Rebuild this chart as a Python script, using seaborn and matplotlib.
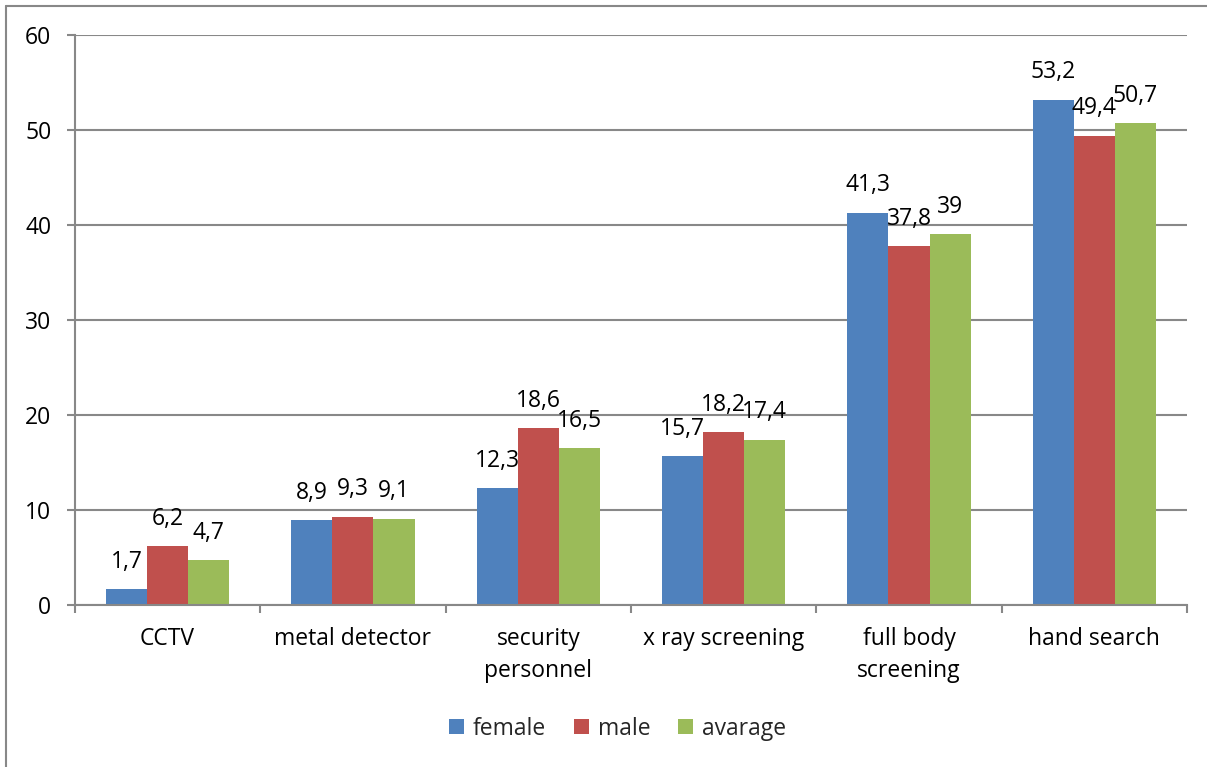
import matplotlib
matplotlib.use("Agg")
import matplotlib.pyplot as plt
from matplotlib.lines import Line2D
import seaborn as sns
import pandas as pd

categories = ["CCTV", "metal detector", "security\npersonnel", "x ray screening",
              "full body\nscreening", "hand search"]
series_names = ["female", "male", "avarage"]
female = [1.7, 8.9, 12.3, 15.7, 41.3, 53.2]
male = [6.2, 9.3, 18.6, 18.2, 37.8, 49.4]
avarage = [4.7, 9.1, 16.5, 17.4, 39.0, 50.7]
y_ticks = [0, 10, 20, 30, 40, 50, 60]

colors = ["#4F81BD", "#C0504D", "#9BBB59"]

rows = []
for name, vals in zip(series_names, [female, male, avarage]):
    for cat, v in zip(categories, vals):
        rows.append({"category": cat, "series": name, "value": v})
df = pd.DataFrame(rows)

sns.set_theme(style="white")
plt.rcParams["font.family"] = ["Open Sans", "DejaVu Sans"]
FS = 16.5

fig = plt.figure(figsize=(12.07, 7.67), dpi=100)
ax = fig.add_axes([0.0621, 0.2112, 0.9213, 0.7432])

sns.barplot(data=df, x="category", y="value", hue="series", order=categories,
            hue_order=series_names, palette=colors, width=0.665, gap=0,
            linewidth=0, saturation=1, ax=ax, legend=True)

ax.set_ylim(0, 60)
ax.set_xlim(-0.5, len(categories) - 0.5)
ax.set_yticks(y_ticks)
ax.set_yticklabels([str(t) for t in y_ticks], fontsize=FS, color="black")
ax.set_xlabel("")
ax.set_ylabel("")

grid_c = "#888888"
ax.yaxis.grid(True, color=grid_c, linewidth=1.5)
ax.set_axisbelow(True)
for side in ["top", "right"]:
    ax.spines[side].set_visible(False)
for side in ["left", "bottom"]:
    ax.spines[side].set_color(grid_c)
    ax.spines[side].set_linewidth(1.5)

ax.tick_params(axis="y", which="major", length=6, width=1.5, color=grid_c,
               left=True, pad=11)

# Category labels centred under each group, ticks at group boundaries
ax.set_xticks(range(len(categories)))
ax.set_xticklabels(categories, fontsize=FS, color="black", linespacing=1.45)
ax.tick_params(axis="x", which="major", length=0, pad=16)
ax.set_xticks([i - 0.5 for i in range(len(categories) + 1)], minor=True)
ax.tick_params(axis="x", which="minor", length=6, width=1.5, color=grid_c,
               bottom=True)

# Value labels above each bar, with a decimal comma
for container in ax.containers:
    labels = [f"{b.get_height():g}".replace(".", ",") for b in container]
    ax.bar_label(container, labels=labels, padding=11, fontsize=FS, color="black")

leg = ax.legend(loc="upper center", bbox_to_anchor=(0.488, -0.16), ncol=3,
                frameon=False, fontsize=FS, handlelength=0.65, handleheight=0.65,
                handletextpad=0.4, columnspacing=1.2)
for h in leg.legend_handles:
    h.set_linewidth(0)

# Chart-area border
fig.add_artist(Line2D([6 / 1207, 6 / 1207], [0, 1 - 6 / 767],
                      transform=fig.transFigure, color="#888888", linewidth=1.5))
fig.add_artist(Line2D([6 / 1207, 1], [1 - 6 / 767, 1 - 6 / 767],
                      transform=fig.transFigure, color="#888888", linewidth=1.5))

fig.savefig("out.png", dpi=100, facecolor="white")
